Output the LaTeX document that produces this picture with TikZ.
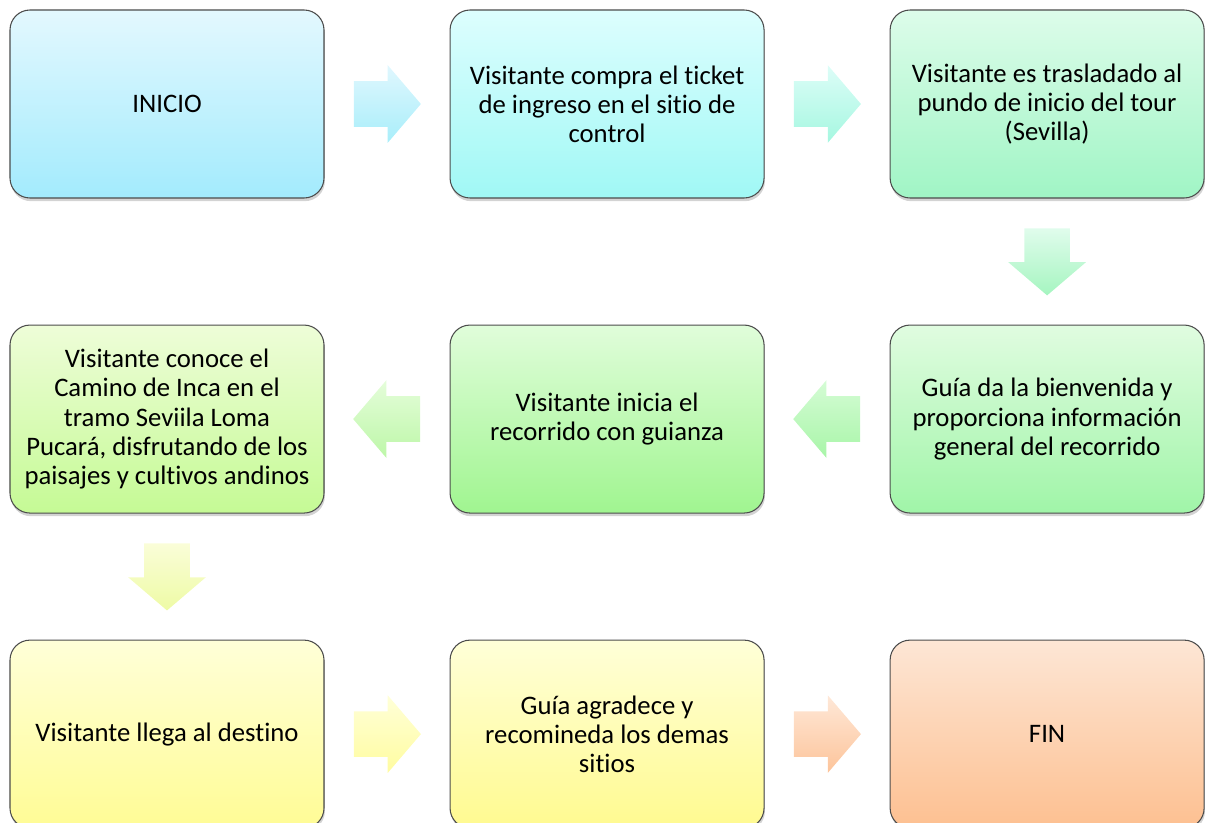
\documentclass[tikz,border=0pt]{standalone}
\usepackage{fontspec}
\setmainfont[Ligatures=NoCommon]{Carlito}
\usetikzlibrary{shapes.arrows, positioning, calc, shadows}
% box shades, top and bottom
\definecolor{boxT1}{HTML}{E3F8FE}\definecolor{boxB1}{HTML}{A3EBFD}
\definecolor{boxT2}{HTML}{DDFEFE}\definecolor{boxB2}{HTML}{A0F8F5}
\definecolor{boxT3}{HTML}{DDFCEA}\definecolor{boxB3}{HTML}{A0F5C5}
\definecolor{boxT4}{HTML}{E0FCE0}\definecolor{boxB4}{HTML}{A0F5A8}
\definecolor{boxT5}{HTML}{E0FDDA}\definecolor{boxB5}{HTML}{A0F590}
\definecolor{boxT6}{HTML}{EEFDD8}\definecolor{boxB6}{HTML}{C5FA95}
\definecolor{boxT7}{HTML}{FFFFD8}\definecolor{boxB7}{HTML}{FFFC95}
\definecolor{boxT8}{HTML}{FFFFD8}\definecolor{boxB8}{HTML}{FFFA90}
\definecolor{boxT9}{HTML}{FDE6D5}\definecolor{boxB9}{HTML}{FDC091}
% arrow shades
\definecolor{arrT1}{HTML}{E0F7FE}\definecolor{arrB1}{HTML}{A8EEFA}
\definecolor{arrT2}{HTML}{DDFDF8}\definecolor{arrB2}{HTML}{A5F7E0}
\definecolor{arrT3}{HTML}{E0FCEC}\definecolor{arrB3}{HTML}{A5F5C0}
\definecolor{arrT4}{HTML}{D5FCD5}\definecolor{arrB4}{HTML}{A8F5A8}
\definecolor{arrT5}{HTML}{E5FDDA}\definecolor{arrB5}{HTML}{BDF7A8}
\definecolor{arrT6}{HTML}{FAFDD8}\definecolor{arrB6}{HTML}{EEFBA5}
\definecolor{arrT7}{HTML}{FFFFD8}\definecolor{arrB7}{HTML}{FFFCA0}
\definecolor{arrT8}{HTML}{FEE8D8}\definecolor{arrB8}{HTML}{FDC49A}
\tikzset{
	stepbox/.style 2 args={rectangle, rounded corners=0.4cm, minimum width=6.28cm, minimum height=3.76cm, align=center, draw=gray!60!black, line width=0.6pt, top color=#1, bottom color=#2, drop shadow={shadow xshift=0.5pt, shadow yshift=-1.8pt, opacity=0.35}},
	blockarrow/.style 2 args={single arrow, draw=none, inner sep=0.45cm, single arrow head extend=0.32cm, single arrow tip angle=99, minimum height=1.34cm, anchor=tail, top color=#1, bottom color=#2},
}
\begin{document}
\begin{tikzpicture}[font=\fontsize{15.2}{16.6}\selectfont, node distance=2.52cm and 2.5cm]
	\useasboundingbox (0,0) rectangle (24.1,16.44);
	\node[stepbox={boxT1}{boxB1}] (b1) at (3.34,14.36) {INICIO};
	\node[stepbox={boxT2}{boxB2}, right=of b1] (b2) {Visitante compra el ticket\\de ingreso en el sitio de\\control};
	\node[stepbox={boxT3}{boxB3}, right=of b2] (b3) {Visitante es trasladado al\\pundo de inicio del tour\\(Sevilla)};
	\node[stepbox={boxT4}{boxB4}, below=of b3] (b4) {Guía da la bienvenida y\\proporciona información\\general del recorrido};
	\node[stepbox={boxT5}{boxB5}, left=of b4] (b5) {Visitante inicia el\\recorrido con guianza};
	\node[stepbox={boxT6}{boxB6}, left=of b5] (b6) {Visitante conoce el\\Camino de Inca en el\\tramo Seviila Loma\\Pucará, disfrutando de los\\paisajes y cultivos andinos};
	\node[stepbox={boxT7}{boxB7}, below=of b6] (b7) {Visitante llega al destino};
	\node[stepbox={boxT8}{boxB8}, right=of b7] (b8) {Guía agradece y\\recomineda los demas\\sitios};
	\node[stepbox={boxT9}{boxB9}, right=of b8] (b9) {FIN};
	\foreach \src/\dst/\rot/\k in {b1/b2/0/1, b2/b3/0/2, b3/b4/270/3, b4/b5/180/4, b5/b6/180/5, b6/b7/270/6, b7/b8/0/7, b8/b9/0/8}
		\node[blockarrow={arrT\k}{arrB\k}, shape border rotate=\rot] (arr\k) at ($($(\src)!0.5!(\dst)$)!0.67cm!(\src)$) {};
\end{tikzpicture}
\end{document}
